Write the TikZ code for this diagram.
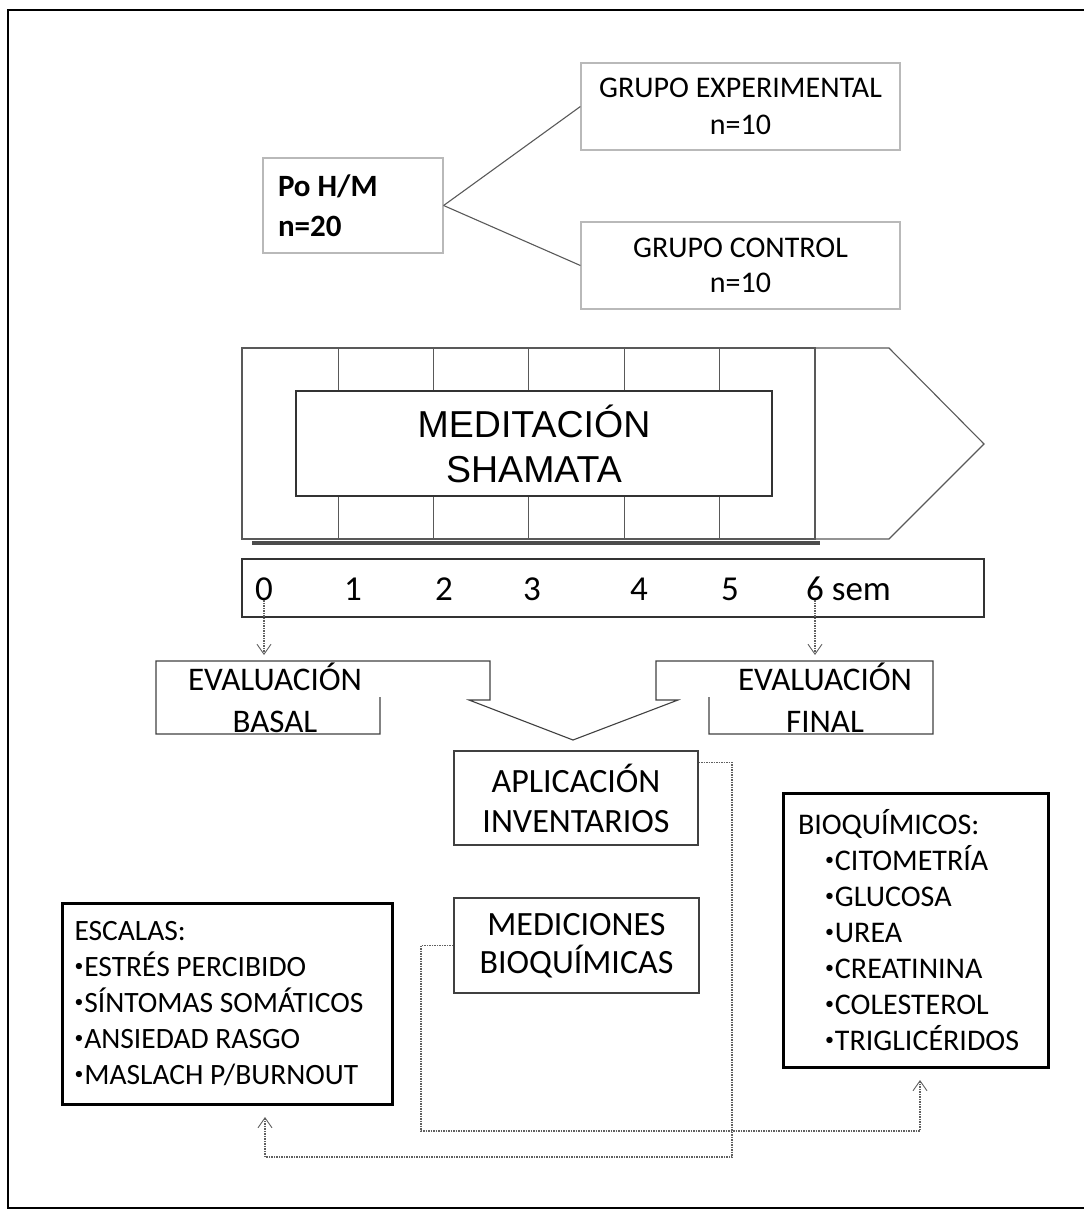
\documentclass[tikz,border=0pt]{standalone}
\usepackage{fontspec}
\usepackage{graphicx}
\setmainfont{Carlito}
\newfontfamily\arialfont{Liberation Sans}
\usetikzlibrary{arrows.meta, positioning, calc}

\newcommand{\dotitem}{\raisebox{0.16em}{\scalebox{0.6}{•}}\hspace{1pt}}

\tikzset{
  thinbox/.style={draw=gray!55, line width=1.2pt, align=center, inner sep=0pt},
  midbox/.style={draw=black!75, line width=1.1pt, align=center, inner sep=0pt},
  listbox/.style={draw=black, line width=3pt, align=flush left, inner sep=0pt},
  tick/.style={inner sep=0pt, anchor=base, font=\fontsize{35}{40}\selectfont},
  dotline/.style={gray!75!black, line width=1.2pt, dash pattern=on 1.5pt off 1pt},
  opentip/.style={-{Straight Barb[length=10pt,width=14pt,line width=0.9pt]}},
}

\begin{document}
\begin{tikzpicture}[x=1pt,y=-1pt]
\useasboundingbox (0,0) rectangle (1084,1210);
% frame
\draw[line width=2.5pt] (1090,10) -- (8,10) -- (8,1208) -- (1090,1208);

% sample and groups
\node[thinbox, text width=150pt, inner xsep=15pt, minimum height=95pt, align=flush left, font=\bfseries\fontsize{31}{40}\selectfont] (po) at (353,205.5) {Po H/M\\n=20};
\node[thinbox, minimum width=319pt, minimum height=87pt, font=\fontsize{30}{37}\selectfont] (exp) at (740.5,106.5) {GRUPO EXPERIMENTAL\\n=10};
\node[thinbox, minimum width=319pt, minimum height=87pt, font=\fontsize{30}{35}\selectfont] (ctrl) at (740.5,265.5) {GRUPO CONTROL\\n=10};
\draw[gray!70!black, line width=1.1pt] (po.east) -- (exp.west);
\draw[gray!70!black, line width=1.1pt] (po.east) -- (ctrl.west);

% meditation block
\draw[gray!60!black, line width=4pt] (252,543) -- (820,543);
\draw[gray!70!black, line width=1.1pt, fill=white] (242,348) rectangle (815,539);
\draw[gray!70!black, line width=1.1pt] (815,348) -- (889,348) -- (984,444) -- (889,539) -- (815,539);
\draw[gray!70!black, line width=1pt] (338,348) -- (338,539) (433,348) -- (433,539) (528,348) -- (528,539) (624,348) -- (624,539) (719,348) -- (719,539);
\node[draw=black!80, line width=1.1pt, fill=white, minimum width=476pt, minimum height=105pt, align=center, font=\arialfont\fontsize{37.5}{45}\selectfont] (medit) at (534,443.5) {MEDITACIÓN\\SHAMATA};

% weeks
\node[draw=black!80, line width=1.2pt, minimum width=742pt, minimum height=58pt] (weeks) at (613,588) {};
\node[tick] (t0) at (264,600) {0};
\node[tick] (t1) at (353,600) {1};
\node[tick] (t2) at (444,600) {2};
\node[tick] (t3) at (532,600) {3};
\node[tick] (t4) at (639,600) {4};
\node[tick] (t5) at (730,600) {5};
\node[tick, anchor=base west] (t6) at (806,600) {6 sem};
\coordinate (evaltop) at (0,655);
\coordinate (six) at ($(t6.south west)+(9,0)$);
\draw[dotline, opentip] (t0.south) -- (t0.south |- evaltop);
\draw[dotline, opentip] (six) -- (six |- evaltop);

% evaluations
\draw[black!75, line width=1.1pt] (380,697) -- (380,734) -- (156,734) -- (156,661) -- (490,661) -- (490,700) -- (469,700) -- (573,740) -- (678,700) -- (656,700) -- (656,661) -- (933,661) -- (933,734) -- (709,734) -- (709,697);
\node[align=center, inner sep=0pt, font=\fontsize{33}{42}\selectfont] (basal) at (275,698) {EVALUACIÓN\\BASAL};
\node[align=center, inner sep=0pt, font=\fontsize{33}{42}\selectfont] (final) at (825,698) {EVALUACIÓN\\FINAL};

\node[midbox, minimum width=244pt, minimum height=94pt, font=\fontsize{34}{40}\selectfont] (aplic) at (576,798) {APLICACIÓN\\INVENTARIOS};
\node[midbox, minimum width=245pt, minimum height=95pt, font=\fontsize{34}{38}\selectfont] (medic) at (576.5,945.5) {MEDICIONES\\BIOQUÍMICAS};

% lists
\node[listbox, text width=305pt, inner xsep=12.5pt, minimum height=201pt, font=\fontsize{29.5}{36}\selectfont] (escalas) at (227,1003.5) {ESCALAS:\\\dotitem ESTRÉS PERCIBIDO\\\dotitem SÍNTOMAS SOMÁTICOS\\\dotitem ANSIEDAD RASGO\\\dotitem MASLACH P/BURNOUT};
\node[listbox, text width=235pt, inner xsep=15pt, minimum height=274pt, font=\fontsize{30}{36}\selectfont] (bioq) at (915.5,930) {BIOQUÍMICOS:\\\hspace*{27pt}\dotitem CITOMETRÍA\\\hspace*{27pt}\dotitem GLUCOSA\\\hspace*{27pt}\dotitem UREA\\\hspace*{27pt}\dotitem CREATININA\\\hspace*{27pt}\dotitem COLESTEROL\\\hspace*{27pt}\dotitem TRIGLICÉRIDOS};

% connectors
\coordinate (escin) at (265,1117);
\coordinate (bioqin) at (920,1080);
\coordinate (busA) at (732,1157);
\coordinate (busB) at (421,1131);
\draw[dotline, opentip] ($(aplic.north east)+(0,12)$) -| (busA) -| (escin);
\draw[dotline, opentip] (medic.west) -| (busB) -| (bioqin);
\end{tikzpicture}
\end{document}
